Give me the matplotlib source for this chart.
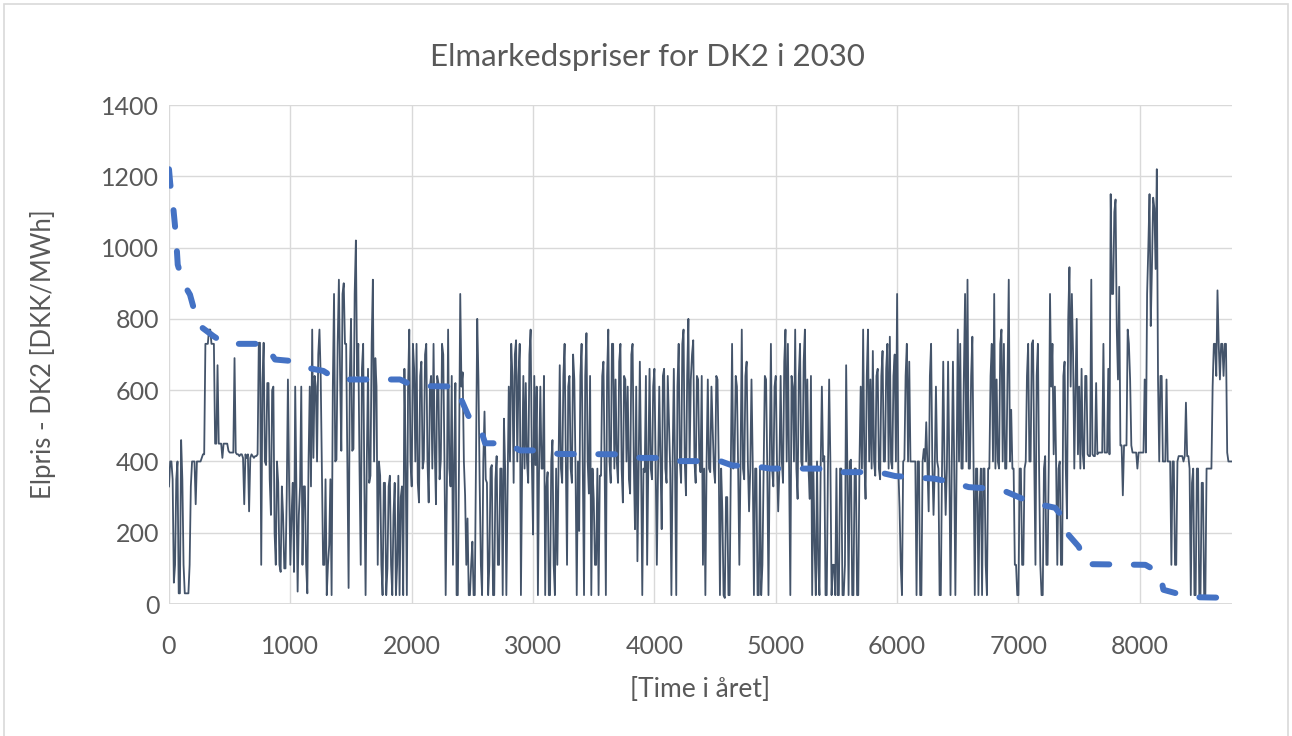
import numpy as np
import matplotlib.pyplot as plt
from matplotlib.patches import Rectangle

# hourly price, every 10 hours (DKK/MWh), one list per ~2 months
step = 10
pris_1 = [330, 400, 400, 350, 60, 110, 350, 400, 30, 30, 460, 350, 110, 30, 30, 30,
          30, 110, 330, 400, 400, 400, 280, 400, 400, 400, 400, 410, 420, 420, 730, 730,
          730, 770, 770, 730, 730, 730, 450, 450, 670, 450, 450, 450, 410, 450, 450, 450,
          450, 430, 425, 425, 425, 425, 690, 425, 420, 420, 415, 420, 420, 410, 280, 420,
          410, 420, 260, 410, 420, 415, 410, 415, 415, 420, 733, 733, 110, 620, 733, 400,
          390, 620, 620, 350, 250, 600, 610, 200, 110, 400, 340, 110, 90, 330, 250, 100,
          100, 300, 630, 340, 110, 250, 340, 90, 610, 330, 35, 250, 330, 610, 110, 330,
          330, 110, 30, 400, 610, 330, 770, 410, 640, 610, 400, 700, 770, 640, 380, 110,
          110, 350, 25, 110, 165, 350, 25, 610, 870, 400, 405, 730, 910, 640, 430, 870,
          900, 730]
pris_2 = [730, 400, 45, 640, 800, 430, 435, 870, 1020, 640, 730, 380, 110, 660, 730, 330,
          25, 400, 660, 340, 360, 730, 910, 400, 690, 610, 110, 400, 360, 110, 25, 340,
          340, 25, 100, 330, 360, 110, 25, 250, 340, 25, 110, 360, 25, 300, 330, 25,
          660, 400, 25, 610, 770, 400, 330, 730, 660, 400, 730, 340, 285, 640, 680, 380,
          405, 700, 730, 400, 285, 610, 640, 380, 730, 430, 280, 640, 620, 350, 405, 730,
          700, 400, 25, 330, 770, 380, 330, 640, 110, 400, 620, 25, 25, 400, 870, 610,
          650, 400, 305, 110, 240, 25, 25, 110, 175, 25, 25, 400, 800, 630, 340, 110,
          25, 400, 540, 350, 340, 25, 110, 380, 390, 25, 25, 350, 415, 110, 110, 380,
          380, 25, 520, 380, 25, 330, 610, 400, 730, 640, 340, 700, 740, 400, 640, 730,
          25, 380]
pris_3 = [640, 380, 620, 400, 340, 700, 770, 400, 195, 640, 390, 610, 25, 400, 610, 380,
          380, 640, 25, 330, 370, 25, 25, 400, 460, 110, 25, 380, 110, 400, 670, 380,
          340, 640, 730, 400, 110, 610, 640, 380, 340, 700, 630, 380, 25, 400, 205, 640,
          730, 380, 25, 640, 760, 400, 310, 640, 25, 380, 295, 110, 110, 380, 25, 360,
          360, 640, 680, 380, 25, 640, 770, 400, 340, 730, 730, 380, 630, 400, 340, 680,
          730, 380, 285, 640, 630, 400, 610, 350, 310, 700, 730, 400, 210, 610, 120, 380,
          680, 400, 25, 380, 370, 640, 110, 400, 660, 380, 350, 610, 660, 400, 110, 380,
          610, 400, 210, 640, 660, 380, 340, 640, 510, 380, 25, 400, 660, 380, 25, 610,
          730, 400, 340, 730, 770, 400, 305, 640, 800, 400, 630, 700, 740, 400, 340, 640,
          630, 400]
pris_4 = [370, 640, 110, 380, 25, 400, 630, 380, 370, 610, 500, 380, 340, 640, 630, 400,
          25, 380, 260, 25, 17, 300, 300, 25, 25, 400, 730, 380, 400, 640, 610, 380,
          110, 400, 770, 380, 350, 640, 680, 400, 260, 380, 630, 400, 25, 380, 380, 25,
          25, 380, 25, 110, 380, 640, 630, 380, 25, 400, 730, 380, 330, 610, 640, 400,
          260, 380, 640, 400, 340, 680, 770, 400, 730, 380, 25, 640, 610, 400, 770, 380,
          295, 640, 730, 400, 380, 680, 770, 400, 630, 380, 295, 640, 25, 380, 165, 25,
          400, 110, 25, 380, 610, 400, 415, 25, 25, 380, 630, 400, 25, 110, 110, 25,
          380, 25, 25, 380, 380, 25, 25, 110, 670, 380, 25, 400, 405, 25, 25, 380,
          380, 25, 25, 400, 610, 380, 770, 400, 295, 640, 770, 400, 630, 380, 710, 400,
          360, 640]
pris_5 = [660, 380, 350, 640, 710, 400, 400, 660, 730, 380, 750, 400, 380, 640, 700, 400,
          870, 380, 270, 110, 25, 400, 405, 640, 730, 400, 680, 400, 400, 400, 400, 400,
          25, 400, 400, 25, 25, 400, 435, 400, 510, 380, 260, 640, 730, 400, 250, 380,
          610, 400, 380, 25, 25, 380, 680, 400, 250, 380, 680, 400, 25, 380, 680, 400,
          25, 380, 770, 400, 730, 380, 380, 640, 870, 400, 910, 380, 380, 640, 750, 380,
          25, 380, 380, 25, 285, 380, 25, 380, 380, 110, 25, 380, 380, 640, 730, 400,
          870, 380, 630, 400, 380, 730, 770, 400, 730, 380, 380, 640, 910, 400, 545, 380,
          380, 110, 110, 25, 25, 380, 380, 110, 110, 380, 400, 640, 730, 400, 400, 730,
          740, 400, 110, 640, 730, 380, 110, 25, 25, 380, 415, 110, 110, 400, 870, 610,
          730, 420]
pris_6 = [610, 400, 110, 380, 400, 110, 110, 640, 680, 380, 240, 800, 945, 610, 870, 700,
          380, 610, 800, 420, 610, 380, 660, 420, 380, 640, 640, 420, 415, 415, 910, 420,
          415, 415, 620, 420, 425, 425, 425, 425, 730, 425, 425, 425, 660, 420, 1150, 870,
          870, 1100, 1135, 770, 630, 890, 445, 445, 305, 445, 445, 445, 770, 730, 630, 445,
          425, 425, 425, 425, 380, 425, 425, 425, 425, 425, 630, 425, 870, 1000, 1150, 780,
          945, 1140, 1110, 940, 1220, 630, 400, 640, 640, 400, 400, 400, 630, 400, 400, 400,
          110, 400, 400, 110, 110, 400, 415, 415, 415, 415, 400, 415, 565, 415, 415, 380,
          25, 340, 380, 25, 25, 380, 380, 25, 25, 340, 340, 25, 25, 380, 380, 380,
          380, 380, 610, 730, 730, 640, 880, 730, 630, 730, 730, 640, 730, 730, 425, 400,
          400, 400, 400]

# sorted prices (duration curve)
varighed_timer = [0, 10, 36, 49, 63, 72, 118, 173, 214, 255, 365, 462, 790, 874, 1005,
                  1135, 1272, 1383, 1904, 2014, 2371, 2413, 2467, 2563, 2605, 2784, 2893,
                  3071, 3209, 3732, 3883, 4048, 4199, 4543, 4639, 4859, 4955, 5353, 5490,
                  5847, 5985, 6190, 6301, 6452, 6590, 6769, 6892, 7029, 7139, 7303, 7372,
                  7415, 7497, 7552, 8046, 8167, 8194, 8345, 8482, 8647, 8760]
varighed_pris = [1220, 1180, 1110, 1063, 1003, 952, 900, 868, 817, 780, 752, 730, 730, 686,
                 682, 663, 654, 630, 630, 612, 610, 570, 528, 496, 451, 451, 431, 431, 421,
                 420, 410, 410, 401, 401, 389, 385, 380, 380, 370, 370, 359, 354, 352, 342,
                 328, 324, 316, 296, 282, 270, 240, 193, 161, 112, 110, 87, 40, 26, 19, 18, 9]

x_ticks = list(range(0, 9000, 1000))
y_ticks = list(range(0, 1600, 200))

tekst = '#595959'
plt.rcParams['font.family'] = ['Lato', 'DejaVu Sans']

fig = plt.figure(figsize=(12.92, 7.36), dpi=100)
ax = fig.add_axes([0.1308, 0.1793, 0.8228, 0.678])

pris = pris_1 + pris_2 + pris_3 + pris_4 + pris_5 + pris_6
timer = np.arange(len(pris)) * step
ax.plot(timer, pris, color='#44546A', lw=1.3, zorder=2)
ax.plot(varighed_timer, varighed_pris, color='#4472C4', lw=4.3,
        linestyle=(0, (2.8, 4.1)), dash_capstyle='round', zorder=3)

ax.set_xlim(0, 8760)
ax.set_ylim(0, 1400)
ax.set_xticks(x_ticks)
ax.set_yticks(y_ticks)
ax.grid(True, color='#D9D9D9', lw=1.0, zorder=0)
ax.set_axisbelow(True)
for s in ax.spines.values():
    s.set_visible(False)
ax.axhline(0, color='#D9D9D9', lw=1.3, zorder=1)
ax.tick_params(axis='both', length=0, labelsize=18, labelcolor=tekst)
ax.tick_params(axis='x', pad=22)
ax.tick_params(axis='y', pad=7)

ax.set_xlabel('[Time i året]', fontsize=19, color=tekst)
ax.xaxis.set_label_coords(0.5, -0.146)
ax.set_ylabel('Elpris - DK2 [DKK/MWh]', fontsize=18.5, color=tekst)
ax.yaxis.set_label_coords(-0.106, 0.5)

fig.text(0.5008, 0.9226, 'Elmarkedspriser for DK2 i 2030', fontsize=22.5, color=tekst,
         ha='center', va='center')

fig.patches.append(Rectangle((0.003, -0.01), 0.994, 1.005, transform=fig.transFigure,
                             fill=False, edgecolor='#D9D9D9', lw=1.2))

fig.savefig('out.png', dpi=100)
